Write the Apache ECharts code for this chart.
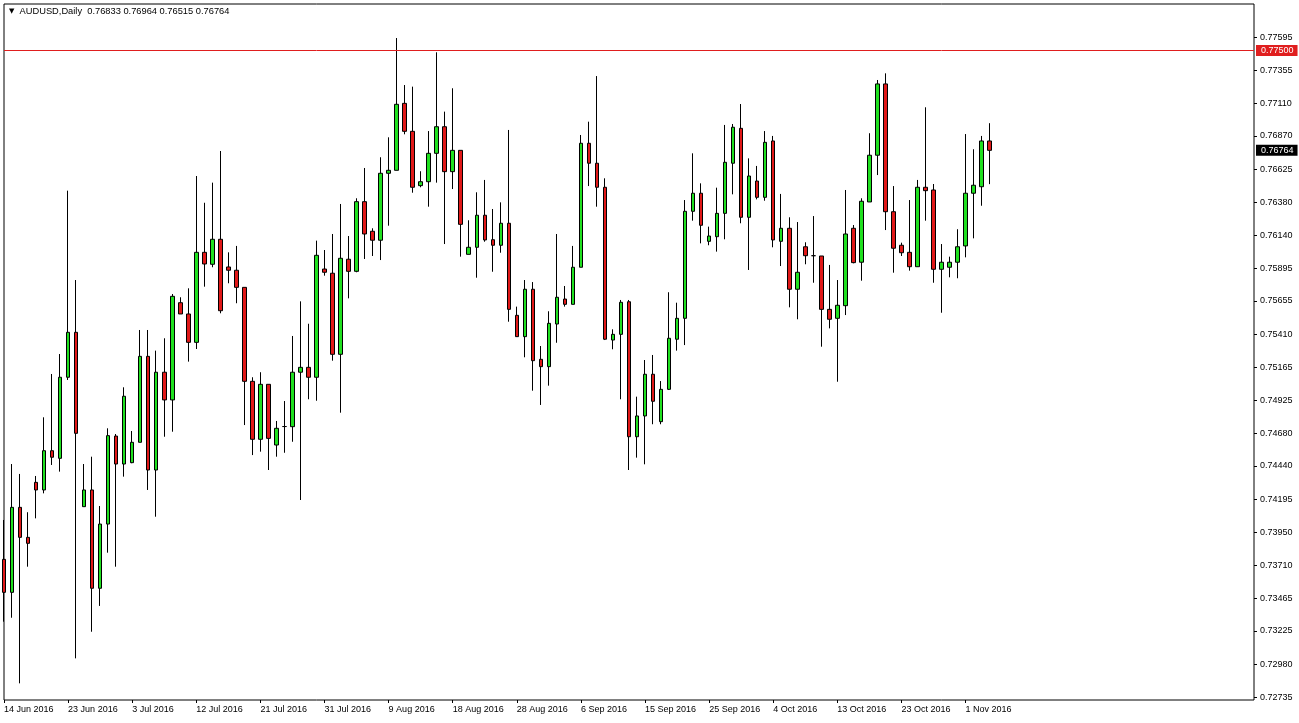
<!DOCTYPE html>
<html><head><meta charset="utf-8">
<script src="https://cdn.jsdelivr.net/npm/echarts@6/dist/echarts.min.js"></script>
<style>html,body{margin:0;padding:0;background:#fff;}#c{width:1299px;height:723px;}</style>
</head><body><div id="c"></div>
<script>
const symbol = 'AUDUSD';
const timeframe = 'Daily';
const alertLevel = 0.775;

const categories = [
'14 Jun 2016','15 Jun 2016','16 Jun 2016','17 Jun 2016','19 Jun 2016','20 Jun 2016','21 Jun 2016','22 Jun 2016','23 Jun 2016','24 Jun 2016',
'26 Jun 2016','27 Jun 2016','28 Jun 2016','29 Jun 2016','30 Jun 2016','1 Jul 2016','3 Jul 2016','4 Jul 2016','5 Jul 2016','6 Jul 2016',
'7 Jul 2016','8 Jul 2016','10 Jul 2016','11 Jul 2016','12 Jul 2016','13 Jul 2016','14 Jul 2016','15 Jul 2016','17 Jul 2016','18 Jul 2016',
'19 Jul 2016','20 Jul 2016','21 Jul 2016','22 Jul 2016','24 Jul 2016','25 Jul 2016','26 Jul 2016','27 Jul 2016','28 Jul 2016','29 Jul 2016',
'31 Jul 2016','1 Aug 2016','2 Aug 2016','3 Aug 2016','4 Aug 2016','5 Aug 2016','7 Aug 2016','8 Aug 2016','9 Aug 2016','10 Aug 2016',
'11 Aug 2016','12 Aug 2016','14 Aug 2016','15 Aug 2016','16 Aug 2016','17 Aug 2016','18 Aug 2016','19 Aug 2016','21 Aug 2016','22 Aug 2016',
'23 Aug 2016','24 Aug 2016','25 Aug 2016','26 Aug 2016','28 Aug 2016','29 Aug 2016','30 Aug 2016','31 Aug 2016','1 Sep 2016','2 Sep 2016',
'4 Sep 2016','5 Sep 2016','6 Sep 2016','7 Sep 2016','8 Sep 2016','9 Sep 2016','11 Sep 2016','12 Sep 2016','13 Sep 2016','14 Sep 2016',
'15 Sep 2016','16 Sep 2016','18 Sep 2016','19 Sep 2016','20 Sep 2016','21 Sep 2016','22 Sep 2016','23 Sep 2016','25 Sep 2016','26 Sep 2016',
'27 Sep 2016','28 Sep 2016','29 Sep 2016','30 Sep 2016','2 Oct 2016','3 Oct 2016','4 Oct 2016','5 Oct 2016','6 Oct 2016','7 Oct 2016',
'9 Oct 2016','10 Oct 2016','11 Oct 2016','12 Oct 2016','13 Oct 2016','14 Oct 2016','16 Oct 2016','17 Oct 2016','18 Oct 2016','19 Oct 2016',
'20 Oct 2016','21 Oct 2016','23 Oct 2016','24 Oct 2016','25 Oct 2016','26 Oct 2016','27 Oct 2016','28 Oct 2016','30 Oct 2016','31 Oct 2016',
'1 Nov 2016','2 Nov 2016','3 Nov 2016','4 Nov 2016'
];

const openPrices = [
0.73752,0.73509,0.74135,0.73914,0.74319,0.74263,0.74552,0.74496,0.75093,0.75424,
0.74140,0.74263,0.73539,0.74012,0.74660,0.74454,0.74464,0.74614,0.75247,0.74410,
0.75130,0.74926,0.75642,0.75559,0.75350,0.76013,0.75925,0.76109,0.75905,0.75881,
0.75755,0.75063,0.74636,0.75041,0.74594,0.74730,0.74729,0.75130,0.75166,0.75093,
0.75890,0.75859,0.75262,0.75962,0.75873,0.76386,0.76168,0.76102,0.76595,0.76617,
0.77110,0.76904,0.76504,0.76533,0.76742,0.76938,0.76607,0.76764,0.75998,0.76050,
0.76286,0.76106,0.76065,0.76227,0.75549,0.75392,0.75741,0.75225,0.75171,0.75485,
0.75669,0.75630,0.75903,0.76816,0.76669,0.76492,0.75367,0.75409,0.75649,0.74655,
0.74808,0.75115,0.74766,0.75004,0.75373,0.75527,0.76315,0.76448,0.76094,0.76128,
0.76300,0.76669,0.76926,0.76271,0.76538,0.76418,0.76833,0.76094,0.76190,0.75741,
0.76054,0.75988,0.75986,0.75593,0.75527,0.75620,0.76190,0.75940,0.76384,0.76728,
0.77253,0.76312,0.76065,0.76013,0.75907,0.76492,0.76472,0.75888,0.75903,0.75940,
0.76060,0.76448,0.76496,0.76833
];
const highPrices = [
0.74042,0.74454,0.74381,0.74099,0.74366,0.74798,0.75117,0.75264,0.76467,0.75809,
0.74454,0.74508,0.74145,0.74717,0.74675,0.75019,0.74697,0.75441,0.75441,0.75289,
0.75380,0.75706,0.75682,0.75748,0.76575,0.76378,0.76526,0.76759,0.76013,0.76060,
0.75755,0.75093,0.75130,0.75041,0.74771,0.74918,0.75397,0.75652,0.75487,0.76099,
0.76030,0.76148,0.76369,0.76133,0.76411,0.76634,0.76190,0.76713,0.76860,0.77591,
0.77245,0.77233,0.76610,0.76906,0.77486,0.77049,0.77221,0.76764,0.76249,0.76455,
0.76546,0.76332,0.76381,0.76914,0.75613,0.75809,0.75794,0.75323,0.75579,0.76148,
0.75765,0.76060,0.76877,0.76975,0.77311,0.76558,0.75446,0.75662,0.75662,0.74950,
0.75220,0.75257,0.75065,0.75719,0.75642,0.76398,0.76742,0.76521,0.76202,0.76489,
0.76951,0.76958,0.77105,0.76705,0.76649,0.76906,0.76870,0.76443,0.76271,0.76236,
0.76087,0.76280,0.75986,0.75920,0.75809,0.76472,0.76214,0.76411,0.76890,0.77282,
0.77331,0.76501,0.76084,0.76398,0.76546,0.77081,0.76516,0.76074,0.75981,0.76183,
0.76884,0.76772,0.76870,0.76964
];
const lowPrices = [
0.73293,0.73322,0.72839,0.73698,0.74054,0.74238,0.74447,0.74398,0.75073,0.73023,
0.74140,0.73219,0.73409,0.73801,0.73698,0.74361,0.74460,0.74614,0.74263,0.74066,
0.74655,0.74692,0.75559,0.75208,0.75301,0.75760,0.75903,0.75564,0.75785,0.75638,
0.74741,0.74520,0.74545,0.74410,0.74508,0.74537,0.74618,0.74189,0.74931,0.74920,
0.75841,0.75215,0.74832,0.75674,0.75866,0.75964,0.75986,0.75956,0.76209,0.76617,
0.76882,0.76452,0.76492,0.76349,0.76526,0.76074,0.76479,0.75981,0.75998,0.75826,
0.76091,0.75870,0.76010,0.75502,0.75390,0.75240,0.74994,0.74889,0.75031,0.75347,
0.75613,0.75630,0.75903,0.76501,0.76349,0.75367,0.75299,0.74931,0.74410,0.74501,
0.74452,0.74747,0.74747,0.74999,0.75289,0.75330,0.76246,0.76079,0.76065,0.76018,
0.76109,0.76440,0.76227,0.75883,0.76403,0.76393,0.76050,0.75912,0.75608,0.75520,
0.75925,0.75789,0.75318,0.75453,0.75060,0.75551,0.75932,0.75804,0.76384,0.76582,
0.76177,0.75863,0.75986,0.75878,0.75907,0.76246,0.75789,0.75568,0.75829,0.75822,
0.75976,0.76116,0.76356,0.76515
];
const closePrices = [
0.73509,0.74135,0.73914,0.73870,0.74263,0.74552,0.74504,0.75093,0.75424,0.74680,
0.74263,0.73539,0.74012,0.74663,0.74454,0.74953,0.74614,0.75247,0.74410,0.75130,
0.74926,0.75689,0.75559,0.75350,0.76013,0.75927,0.76109,0.75583,0.75881,0.75755,
0.75063,0.74636,0.75041,0.74643,0.74717,0.74730,0.75130,0.75166,0.75093,0.75991,
0.75866,0.75262,0.75969,0.75873,0.76386,0.76148,0.76102,0.76595,0.76617,0.77103,
0.76904,0.76492,0.76533,0.76742,0.76938,0.76607,0.76764,0.76219,0.76050,0.76286,
0.76104,0.76065,0.76227,0.75593,0.75392,0.75741,0.75215,0.75171,0.75490,0.75682,
0.75630,0.75903,0.76816,0.76669,0.76492,0.75373,0.75409,0.75645,0.74655,0.74808,
0.75115,0.74916,0.75004,0.75380,0.75527,0.76315,0.76448,0.76212,0.76133,0.76300,
0.76676,0.76934,0.76271,0.76575,0.76418,0.76823,0.76104,0.76190,0.75741,0.75866,
0.75988,0.75988,0.75593,0.75520,0.75623,0.76148,0.75937,0.76389,0.76728,0.77253,
0.76312,0.76043,0.76010,0.75907,0.76492,0.76467,0.75888,0.75940,0.75940,0.76054,
0.76448,0.76507,0.76833,0.76764
];

const yTickLabels = ['0.72735','0.72980','0.73225','0.73465','0.73710','0.73950','0.74195','0.74440','0.74680','0.74925',
'0.75165','0.75410','0.75655','0.75895','0.76140','0.76380','0.76625','0.76870','0.77110','0.77355','0.77595'];

const FONT = 'Liberation Sans';
const emptySlots = 33;            // right-hand chart shift (empty bars)
const labelEvery = 8;
const axisCats = categories.concat(new Array(emptySlots).fill(''));
const last = categories.length - 1;
const candleData = categories.map((_, i) => [openPrices[i], closePrices[i], lowPrices[i], highPrices[i]]);
const tickVals = yTickLabels.map(Number);
const showIdx = (i) => i % labelEvery === 0 && i <= last;

const header = '{t|\u25BC}  ' + symbol + ',' + timeframe + '  ' +
  [openPrices[last], highPrices[last], lowPrices[last], closePrices[last]].map(v => v.toFixed(5)).join(' ');

const priceLabel = (bg) => ({ show: true, position: 'end', distance: 2, backgroundColor: bg, color: '#fff', opacity: 1,
  fontFamily: FONT, fontSize: 9, padding: [1, 4, 1, 5], formatter: (p) => Number(p.value).toFixed(5) });

const chart = echarts.init(document.getElementById('c'), null, {renderer: 'canvas'});
chart.setOption({
  animation: false,
  backgroundColor: '#fff',
  title: {
    text: header, left: 9, top: 7, padding: 0,
    textStyle: { fontFamily: FONT, fontSize: 9.3, fontWeight: 'normal', color: '#000',
      rich: { t: { fontFamily: 'DejaVu Sans', fontSize: 7, color: '#000' } } }
  },
  grid: { left: 4, top: 4, right: 45, bottom: 23, show: true, borderColor: '#000', borderWidth: 1, backgroundColor: '#fff' },
  xAxis: {
    type: 'category', data: axisCats, boundaryGap: false,
    axisLine: { show: false },
    axisTick: { show: true, interval: (i) => showIdx(i), length: 3, lineStyle: { color: '#000' } },
    axisLabel: { interval: (i) => showIdx(i), align: 'left', margin: 5, fontFamily: FONT, fontSize: 9, color: '#000' },
    splitLine: { show: false }
  },
  yAxis: {
    type: 'value', position: 'right', scale: true,
    min: 0.727163, max: 0.778416,
    axisLine: { show: false },
    splitLine: { show: false },
    axisTick: { show: true, length: 3, customValues: tickVals, lineStyle: { color: '#000' } },
    axisLabel: { customValues: tickVals, margin: 6, fontFamily: FONT, fontSize: 9, color: '#000',
      formatter: (v) => { const s = yTickLabels.find(t => Math.abs(Number(t) - v) < 1e-7); return s || v.toFixed(5); } }
  },
  series: [{
    type: 'candlestick',
    data: candleData,
    barWidth: 4,
    itemStyle: { color: '#20e020', color0: '#e01818', borderColor: '#000', borderColor0: '#000', borderColorDoji: '#000', borderWidth: 1 },
    markLine: {
      silent: true, symbol: ['none', 'none'], animation: false, precision: 5,
      data: [
        { yAxis: alertLevel, lineStyle: { color: '#e01e1e', width: 1, type: 'solid' }, label: priceLabel('#e01e1e') },
        { yAxis: closePrices[last], lineStyle: { color: 'rgba(0,0,0,0)', width: 1, type: 'solid' }, label: priceLabel('#000') }
      ]
    }
  }]
});
</script></body></html>
